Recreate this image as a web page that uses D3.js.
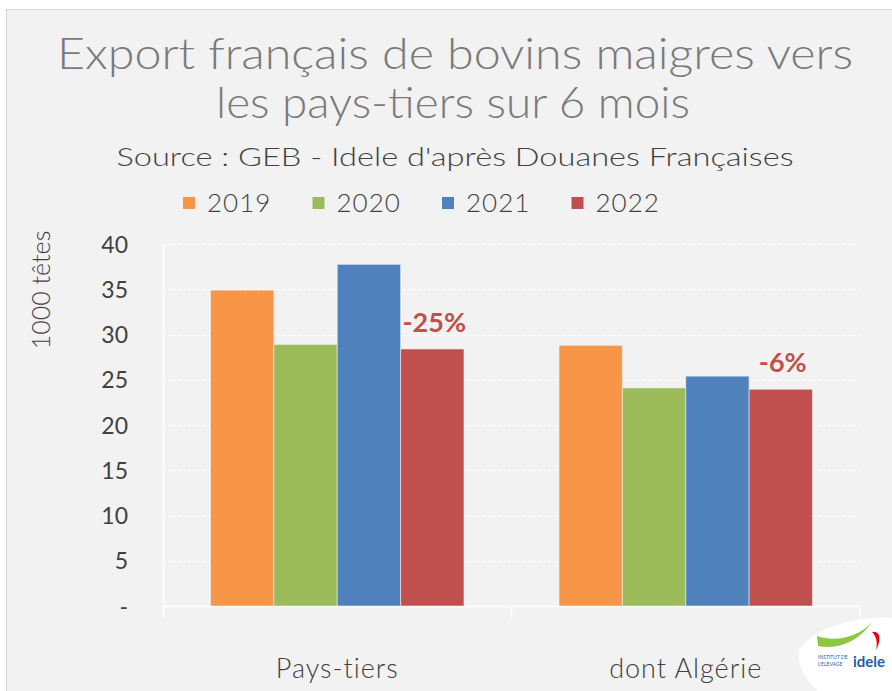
<!DOCTYPE html>
<html>
<head>
<meta charset="utf-8">
<script src="https://cdn.jsdelivr.net/npm/d3@7"></script>
<style>
  body { margin: 0; background: #ffffff; }
  text { font-family: "Century Gothic", "URW Gothic", Lato, "Noto Sans", sans-serif; }
</style>
</head>
<body>
<script>
var categories = ["Pays-tiers", "dont Algérie"];
var years = ["2019", "2020", "2021", "2022"];
var values2019 = [34.9, 28.8];
var values2020 = [28.9, 24.1];
var values2021 = [37.75, 25.4];
var values2022 = [28.4, 23.95];
var changeLabels = ["-25%", "-6%"];
var yTicks = [0, 5, 10, 15, 20, 25, 30, 35, 40];
var colors = ["#f79646", "#9bbb59", "#4f81bd", "#c0504d"];

var width = 892, height = 691;
var plotLeft = 163, plotRight = 860, plotTop = 244, plotBottom = 606;

var series = [values2019, values2020, values2021, values2022];

var svg = d3.select("body")
  .append("svg")
  .attr("width", width)
  .attr("height", height)
  ;

// background frame
svg.append("rect")
  .attr("x", 6.5)
  .attr("y", 9.5)
  .attr("width", width)
  .attr("height", height)
  .attr("fill", "#f2f2f2")
  .attr("stroke", "#d4d4d4")
  ;

var y = d3.scaleLinear().domain([0, 40]).range([plotBottom, plotTop]);
var x0 = d3.scaleBand().domain(categories).range([plotLeft, plotRight]);
var x1 = d3.scaleBand().domain(years).range([0, x0.bandwidth()]).paddingOuter(0.75);

//
// grid + axes
//
svg.append("g")
  .selectAll("line")
  .data(yTicks.filter(function(d) { return d > 0; }))
  .join("line")
  .attr("x1", plotLeft)
  .attr("x2", plotRight)
  .attr("y1", function(d) { return Math.round(y(d)) + 0.5; })
  .attr("y2", function(d) { return Math.round(y(d)) + 0.5; })
  .attr("stroke", "#ffffff")
  .attr("stroke-width", 1.2)
  .attr("stroke-dasharray", "3,2")
  ;

var yAxis = svg.append("g")
  .attr("transform", "translate(" + (plotLeft - 35) + ",0)")
  .call(d3.axisLeft(y).tickValues(yTicks).tickSize(0).tickPadding(0)
    .tickFormat(function(d) { return d === 0 ? "-" : d; }))
  ;
yAxis.select(".domain").remove();
yAxis.selectAll("text")
  .attr("fill", "#404040")
  .attr("font-size", 23)
  .attr("font-family", null)
  .attr("dy", "0.35em")
  ;

var axisColor = "#ffffff";
svg.append("line")
  .attr("x1", plotLeft + 0.5).attr("x2", plotLeft + 0.5)
  .attr("y1", plotTop).attr("y2", plotBottom + 11)
  .attr("stroke", axisColor).attr("stroke-width", 1.5)
  ;
svg.append("line")
  .attr("x1", plotLeft).attr("x2", plotRight)
  .attr("y1", plotBottom + 0.5).attr("y2", plotBottom + 0.5)
  .attr("stroke", axisColor).attr("stroke-width", 1.5)
  ;
svg.append("g")
  .selectAll("line")
  .data(categories.slice(1).concat(["end"]))
  .join("line")
  .attr("x1", function(d) { return d === "end" ? plotRight : x0(d); })
  .attr("x2", function(d) { return d === "end" ? plotRight : x0(d); })
  .attr("y1", plotBottom)
  .attr("y2", plotBottom + 11)
  .attr("stroke", axisColor)
  .attr("stroke-width", 1.5)
  ;

//
// bars
//
var groups = svg.append("g")
  .selectAll("g")
  .data(categories)
  .join("g")
  .attr("transform", function(d) { return "translate(" + x0(d) + ",0)"; })
  ;

groups.selectAll("rect")
  .data(function(d, i) {
    return years.map(function(yr, j) { return { year: yr, value: series[j][i], color: colors[j] }; });
  })
  .join("rect")
  .attr("x", function(d) { return x1(d.year); })
  .attr("width", x1.bandwidth())
  .attr("y", function(d) { return y(d.value); })
  .attr("height", function(d) { return plotBottom - y(d.value); })
  .attr("fill", function(d) { return d.color; })
  .attr("stroke", "#f2f2f2")
  .attr("stroke-opacity", 0.6)
  .attr("stroke-width", 1)
  ;

groups.append("text")
  .text(function(d, i) { return changeLabels[i]; })
  .attr("x", x1("2022") + x1.bandwidth() / 2 + 2)
  .attr("y", function(d, i) { return y(values2022[i]) - 17; })
  .attr("text-anchor", "middle")
  .attr("font-size", 27)
  .attr("font-weight", "bold")
  .attr("fill", "#c0504d")
  ;

// category labels
svg.append("g")
  .selectAll("text")
  .data(categories)
  .join("text")
  .text(function(d) { return d; })
  .attr("x", function(d) { return x0(d) + x0.bandwidth() / 2; })
  .attr("y", 678)
  .attr("text-anchor", "middle")
  .attr("font-size", 27)
  .attr("letter-spacing", 1)
  .attr("font-weight", 300)
  .attr("fill", "#404040")
  ;

//
// titles
//
addText = function(str, x, yy, size, color, len, weight) {
  var t = svg.append("text")
    .text(str)
    .attr("x", x)
    .attr("y", yy)
    .attr("text-anchor", "middle")
    .attr("font-size", size)
    .attr("font-weight", weight)
    .attr("fill", color)
    ;
  if (len) t.attr("textLength", len).attr("lengthAdjust", "spacingAndGlyphs");
  return t;
}

addText("Export français de bovins maigres vers", 455, 69, 44, "#7a7a7a", 796, 300);
addText("les pays-tiers sur 6 mois", 453, 118, 44, "#7a7a7a", 474, 300);
addText("Source : GEB - Idele d'après Douanes Françaises", 455, 166, 25, "#404040", 677, 300);

svg.append("text")
  .text("1000 têtes")
  .attr("transform", "translate(50,290) rotate(-90)")
  .attr("text-anchor", "middle")
  .attr("font-size", 25)
  .attr("font-weight", 300)
  .attr("fill", "#404040")
  ;

// legend
var legend = svg.append("g")
  .selectAll("g")
  .data(years)
  .join("g")
  .attr("transform", function(d, i) { return "translate(" + (183 + i * 129.5) + ",197)"; })
  ;
legend.append("rect")
  .attr("width", 12).attr("height", 12)
  .attr("fill", function(d, i) { return colors[i]; })
  ;
legend.append("text")
  .text(function(d) { return d; })
  .attr("x", 24)
  .attr("y", 15)
  .attr("font-size", 26)
  .attr("letter-spacing", 1)
  .attr("font-weight", 300)
  .attr("fill", "#404040")
  ;

//
// logo corner
//
svg.append("path")
  .attr("d", "M800,648 C815,628 860,615 892,618 L892,691 L818,691 C805,680 795,662 800,648 Z")
  .attr("fill", "#ffffff")
  ;
svg.append("path")
  .attr("d", "M817,636 C835,642 858,638 872,622 C860,640 840,650 818,646 Z")
  .attr("fill", "#8dc63f")
  ;
svg.append("path")
  .attr("d", "M872,632 C880,630 882,640 876,650 C878,642 876,636 872,632 Z")
  .attr("fill", "#e30613")
  ;
svg.append("text")
  .text("idele")
  .attr("x", 853).attr("y", 667)
  .attr("font-family", "Roboto, sans-serif")
  .attr("font-weight", "bold")
  .attr("font-size", 15)
  .attr("fill", "#1d5fa8")
  ;
svg.append("text")
  .text("INSTITUT DE")
  .attr("x", 818).attr("y", 659)
  .attr("font-family", "Roboto, sans-serif")
  .attr("font-size", 5)
  .attr("fill", "#1d5fa8")
  ;
svg.append("text")
  .text("L'ELEVAGE")
  .attr("x", 818).attr("y", 666)
  .attr("font-family", "Roboto, sans-serif")
  .attr("font-size", 5)
  .attr("fill", "#1d5fa8")
  ;
</script>
</body>
</html>
